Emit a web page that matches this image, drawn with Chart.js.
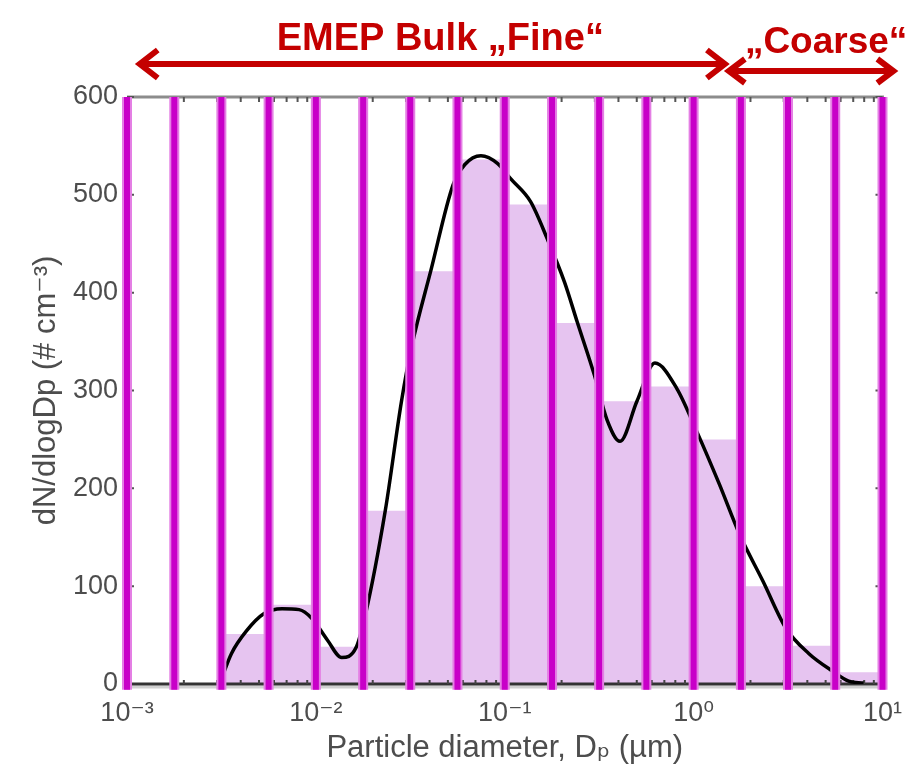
<!DOCTYPE html>
<html>
<head>
<meta charset="utf-8">
<script src="https://cdn.jsdelivr.net/npm/chart.js@4.4.1/dist/chart.umd.min.js"></script>
<style>
  html, body { margin: 0; padding: 0; background: #ffffff; }
  #wrap { width: 915px; height: 774px; }
</style>
</head>
<body>
<div id="wrap"><canvas id="chart" width="915" height="774"></canvas></div>
<script>
// Impactor stage boundaries (µm) and the mean dN/dlogDp collected on each stage
const binEdges  = [0.001, 0.00178, 0.00316, 0.00562, 0.01, 0.0178, 0.0316, 0.0562, 0.1,
                   0.178, 0.316, 0.562, 1, 1.78, 3.16, 5.62, 10];
const binValues = [0, 0, 51, 81, 38, 177, 422, 536, 490, 369, 289, 304, 250, 100, 39, 12];

// Fitted size distribution (diameter in µm, dN/dlogDp in # cm^-3)
const fitDiameters = [0.00316, 0.00357, 0.00428, 0.00532, 0.00662, 0.00815, 0.00953, 0.0115,
                      0.0137, 0.0163, 0.0183, 0.0233, 0.0284, 0.0320, 0.0408, 0.0532, 0.0615,
                      0.0748, 0.0918, 0.108, 0.137, 0.168, 0.207, 0.242, 0.298, 0.348, 0.408,
                      0.501, 0.624, 0.815, 1.04, 1.37, 1.75, 2.33, 3.08, 4.08, 5.46, 6.62, 7.94];
const fitValues    = [5, 31, 54, 72, 77, 76, 67, 45,
                      27, 37, 71, 177, 289, 343, 424, 510, 531,
                      540, 532, 516, 493, 455, 411, 370, 316, 270, 248,
                      289, 328, 302, 258, 204, 153, 105, 57, 31, 13, 3, 1];

// Axis ticks
const xTickValues = [0.001, 0.01, 0.1, 1, 10];
const xTickLabels = ['10\u207B\u00B3', '10\u207B\u00B2', '10\u207B\u00B9', '10\u2070', '10\u00B9'];
const yTickValues = [0, 100, 200, 300, 400, 500, 600];

// Size ranges marked above the plot: [from, to] in µm
const rangeLabels = ['EMEP Bulk \u201EFine\u201C', '\u201ECoarse\u201C'];
const rangeBounds = [[0.00114, 1.5], [1.5, 11.7]];

const FONT = '"Liberation Sans", Arial, "DejaVu Sans", sans-serif';
const RED = '#c40000';
const STAGE_LINE_FOOT = -6;

// Stage boundary lines: a soft halo and a saturated core for each edge
const stageLineSets = [];
binEdges.forEach(e => {
  const pts = [{ x: e, y: STAGE_LINE_FOOT }, { x: e, y: 600 }];
  stageLineSets.push({ data: pts, borderColor: '#e47fe4', borderWidth: 10, pointRadius: 0, clip: false, order: 2 });
  stageLineSets.push({ data: pts, borderColor: '#c800c8', borderWidth: 6, pointRadius: 0, clip: false, order: 1 });
});

// Each stage value holds from its lower edge up to the next edge
const histData = binEdges.map((e, i) => ({ x: e, y: i < binValues.length ? binValues[i] : binValues[binValues.length - 1] }));
const fitData = fitDiameters.map((d, i) => ({ x: d, y: fitValues[i] }));

// Box frame with inward ticks (top/bottom log minors, left/right at each y tick)
const framePlugin = {
  id: 'frame',
  beforeDatasetsDraw(chart) {
    const { ctx, chartArea: a, scales: { x, y } } = chart;
    ctx.save();
    ctx.strokeStyle = '#8c8c8c';
    ctx.lineWidth = 3;
    ctx.beginPath();
    ctx.moveTo(a.left, a.top);
    ctx.lineTo(a.right, a.top);
    ctx.lineTo(a.right, a.bottom);
    ctx.stroke();
    ctx.strokeStyle = '#555555';
    ctx.lineWidth = 2;
    ctx.beginPath();
    for (let k = 0; k < xTickValues.length - 1; k++) {
      for (let m = 1; m <= 9; m++) {
        const px = x.getPixelForValue(xTickValues[k] * m);
        ctx.moveTo(px, a.top); ctx.lineTo(px, a.top + (m === 1 ? 8 : 5));
      }
    }
    yTickValues.forEach(v => {
      const py = y.getPixelForValue(v);
      ctx.moveTo(a.left, py); ctx.lineTo(a.left + 7, py);
      ctx.moveTo(a.right, py); ctx.lineTo(a.right - 7, py);
    });
    ctx.stroke();
    ctx.restore();
  },
  // bottom axis line sits above the stage fill but under the curve and stage lines
  afterDatasetDraw(chart, args) {
    if (args.index !== 0) return;
    const { ctx, chartArea: a, scales: { x } } = chart;
    ctx.save();
    ctx.strokeStyle = '#d0d0d0';
    ctx.lineWidth = 3;
    ctx.beginPath();
    ctx.moveTo(a.left, a.bottom + 3); ctx.lineTo(a.right, a.bottom + 3);
    ctx.stroke();
    ctx.strokeStyle = '#333333';
    ctx.lineWidth = 3;
    ctx.beginPath();
    ctx.moveTo(a.left, a.bottom); ctx.lineTo(a.right, a.bottom);
    ctx.stroke();
    ctx.strokeStyle = '#444444';
    ctx.lineWidth = 2;
    ctx.beginPath();
    for (let k = 0; k < xTickValues.length - 1; k++) {
      for (let m = 2; m <= 9; m++) {
        const px = x.getPixelForValue(xTickValues[k] * m);
        ctx.moveTo(px, a.bottom); ctx.lineTo(px, a.bottom - 4);
      }
    }
    ctx.stroke();
    ctx.restore();
  }
};

// Double-headed arrows with their range names above the plot
const rangePlugin = {
  id: 'ranges',
  afterDraw(chart) {
    const { ctx, chartArea: a, scales: { x } } = chart;
    const specs = [
      { dy: -33, head: 14, back: 20, width: 6, font: 'bold 38px ' + FONT, textDy: -47, shift: 8 },
      { dy: -26, head: 12, back: 18, width: 6, font: 'bold 37px ' + FONT, textDy: -44, shift: 15 }
    ];
    ctx.save();
    ctx.strokeStyle = RED;
    ctx.fillStyle = RED;
    ctx.lineCap = 'butt';
    ctx.lineJoin = 'miter';
    rangeBounds.forEach((b, i) => {
      const s = specs[i];
      const x0 = x.getPixelForValue(b[0]);
      const x1 = x.getPixelForValue(b[1]);
      const yy = a.top + s.dy;
      ctx.lineWidth = s.width;
      ctx.beginPath();
      ctx.moveTo(x0 + 3, yy); ctx.lineTo(x1 - 3, yy);
      ctx.stroke();
      ctx.beginPath();
      ctx.moveTo(x0 + s.back, yy - s.head); ctx.lineTo(x0 + 2, yy); ctx.lineTo(x0 + s.back, yy + s.head);
      ctx.moveTo(x1 - s.back, yy - s.head); ctx.lineTo(x1 - 2, yy); ctx.lineTo(x1 - s.back, yy + s.head);
      ctx.stroke();
      ctx.font = s.font;
      ctx.textAlign = 'center';
      ctx.textBaseline = 'alphabetic';
      ctx.fillText(rangeLabels[i], (x0 + x1) / 2 + s.shift, a.top + s.textDy);
    });
    ctx.restore();
  }
};

Chart.defaults.font.family = FONT;

new Chart(document.getElementById('chart'), {
  type: 'line',
  data: {
    datasets: [
      {
        label: 'stages',
        data: histData,
        stepped: 'before',
        fill: 'origin',
        backgroundColor: '#e6c4f0',
        borderWidth: 0,
        borderColor: 'rgba(0,0,0,0)',
        pointRadius: 0,
        order: 4
      },
      {
        label: 'fit',
        data: fitData,
        borderColor: '#000000',
        borderWidth: 3.5,
        pointRadius: 0,
        cubicInterpolationMode: 'monotone',
        fill: false,
        order: 3
      },
      ...stageLineSets
    ]
  },
  options: {
    responsive: false,
    animation: false,
    events: [],
    layout: { padding: { top: 97, right: 27, left: 0, bottom: 0 } },
    plugins: { legend: { display: false }, tooltip: { enabled: false } },
    scales: {
      x: {
        type: 'logarithmic',
        min: 0.001,
        max: 10,
        afterBuildTicks: s => { s.ticks = xTickValues.map(v => ({ value: v })); },
        afterFit: s => { s.height = 90; },
        grid: { display: false, drawTicks: false },
        border: { display: false },
        ticks: {
          autoSkip: false,
          maxRotation: 0,
          padding: 13,
          color: '#4d4d4d',
          font: { size: 27 },
          callback: (v) => { const i = xTickValues.indexOf(v); return i >= 0 ? xTickLabels[i] : ''; }
        },
        title: {
          display: true,
          text: 'Particle diameter, D\u209A (\u00B5m)',
          color: '#4d4d4d',
          font: { size: 31 },
          padding: { top: 0, bottom: 7 }
        }
      },
      y: {
        min: 0,
        max: 600,
        afterBuildTicks: s => { s.ticks = yTickValues.map(v => ({ value: v })); },
        afterFit: s => { s.width = 127; },
        grid: { display: false, drawTicks: false },
        border: { display: false },
        ticks: { padding: 9, color: '#4d4d4d', font: { size: 27 } },
        title: {
          display: true,
          text: 'dN/dlogDp (# cm\u207B\u00B3)',
          color: '#4d4d4d',
          font: { size: 31 },
          padding: { top: 28, bottom: 0 }
        }
      }
    }
  },
  plugins: [framePlugin, rangePlugin]
});
</script>
</body>
</html>
